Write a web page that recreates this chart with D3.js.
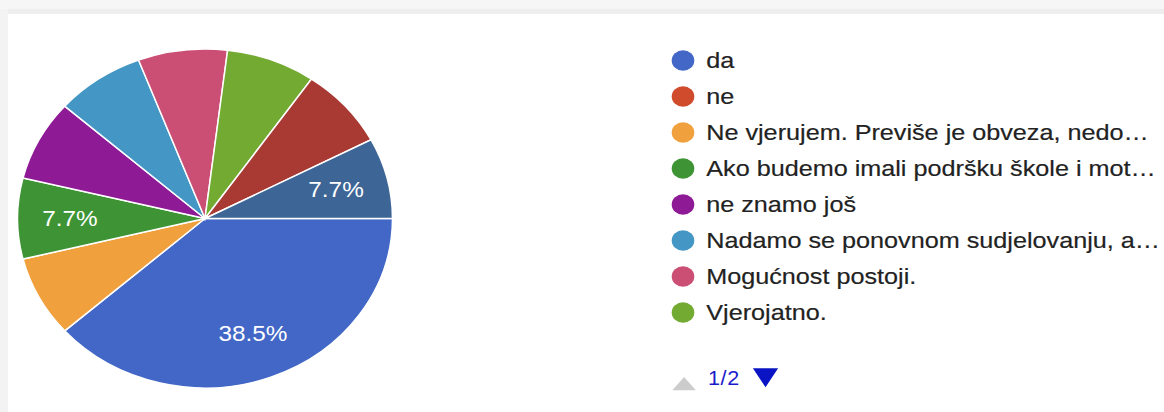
<!DOCTYPE html>
<html>
<head>
<meta charset="utf-8">
<script src="https://cdn.jsdelivr.net/npm/d3@7"></script>
<style>
  body { margin: 0; background: #fff; }
  text { font-family: "Liberation Sans", Arial, Helvetica, sans-serif; }
</style>
</head>
<body>
<svg id="chart" width="1164" height="412"></svg>
<script>
// Answer options (legend labels, truncated as shown in the legend)
const categories = [
  "da",
  "ne",
  "Ne vjerujem. Previše je obveza, nedo…",
  "Ako budemo imali podršku škole i mot…",
  "ne znamo još",
  "Nadamo se ponovnom sudjelovanju, a…",
  "Mogućnost postoji.",
  "Vjerojatno.",
  "Odgovor 9",
  "Odgovor 10"
];
// Number of responses per option
const responses = [5, 0, 1, 1, 1, 1, 1, 1, 1, 1];
// Slice colours
const colors = [
  "#4267c6", "#d04a2c", "#f0a03c", "#3e9435", "#8e1a95",
  "#4497c4", "#cb4f75", "#72aa32", "#a83a33", "#3d6696"
];
// Slices whose percentage is printed on the pie
const labelledSlices = ["da", "Ako budemo imali podršku škole i mot…", "Odgovor 10"];
// Legend entries on the first page
const legendPageSize = 8;
const pageLabel = "1/2";

const svg = d3.select("#chart");
const W = 1164, H = 412;

// page frame
svg.append("rect").attr("x", 0).attr("y", 0).attr("width", W).attr("height", H).attr("fill", "#fff");
svg.append("rect").attr("x", 0).attr("y", 0).attr("width", W).attr("height", 9).attr("fill", "#f6f6f6");
svg.append("rect").attr("x", 0).attr("y", 9).attr("width", W).attr("height", 5).attr("fill", "#eeeeee");
svg.append("rect").attr("x", 0).attr("y", 9).attr("width", 8).attr("height", H).attr("fill", "#f3f3f3");

// chart content is drawn slightly widened horizontally
const sx = 1.106;
const g = svg.append("g").attr("transform", `scale(${sx},1)`);

const total = d3.sum(responses);
const data = categories.map((c, i) => ({ name: c, value: responses[i], color: colors[i] }));

const cx = 205 / sx, cy = 218.5, r = 169.5;

const pie = d3.pie()
  .sort(null)
  .value(d => d.value)
  .startAngle(Math.PI / 2)
  .endAngle(Math.PI / 2 + 2 * Math.PI);

const arc = d3.arc().innerRadius(0).outerRadius(r);
const labelArc = d3.arc().innerRadius(r * 0.72).outerRadius(r * 0.72);

const arcs = pie(data).filter(d => d.data.value > 0);

const pg = g.append("g").attr("transform", `translate(${cx},${cy})`);
pg.selectAll("path.slice")
  .data(arcs)
  .join("path")
  .attr("class", "slice")
  .attr("d", arc)
  .attr("fill", d => d.data.color)
  .attr("stroke", "#fff")
  .attr("stroke-width", 1.5)
  .attr("vector-effect", "non-scaling-stroke");

const fmt = d3.format(".1%");
pg.selectAll("text.pct")
  .data(arcs.filter(d => labelledSlices.includes(d.data.name)))
  .join("text")
  .attr("class", "pct")
  .attr("transform", d => `translate(${labelArc.centroid(d)})`)
  .attr("text-anchor", "middle")
  .attr("dy", "0.36em")
  .attr("fill", "#fff")
  .attr("font-size", 22)
  .text(d => fmt(d.data.value / total));

// legend
const lx = 683 / sx, ly0 = 60.5, lstep = 36;
const legend = g.append("g");
const items = legend.selectAll("g.item")
  .data(data.slice(0, legendPageSize))
  .join("g")
  .attr("class", "item")
  .attr("transform", (d, i) => `translate(${lx},${ly0 + i * lstep})`);
items.append("circle")
  .attr("r", 10.2)
  .attr("fill", d => d.color);
items.append("text")
  .attr("x", 21)
  .attr("y", 7.5)
  .attr("font-size", 22.8)
  .attr("fill", "#222")
  .attr("stroke", "#222")
  .attr("stroke-width", 0.2)
  .text(d => d.name);

// pager
const py = 381;
const tri = d3.symbol(d3.symbolTriangle, 100)();
const pager = g.append("g").attr("transform", `translate(${lx},${py})`);
pager.append("path")
  .attr("d", tri)
  .attr("transform", "translate(1,4.8) scale(1.4,1)")
  .attr("fill", "#cccccc");
pager.append("text")
  .attr("x", 22.5)
  .attr("y", 3.5)
  .attr("font-size", 19.5)
  .attr("letter-spacing", 0.6)
  .attr("fill", "#1a1acc")
  .text(pageLabel);
pager.append("path")
  .attr("d", tri)
  .attr("transform", "translate(74.6,-6.5) rotate(180) scale(1.5,1.45)")
  .attr("fill", "#0a14c4");
</script>
</body>
</html>
